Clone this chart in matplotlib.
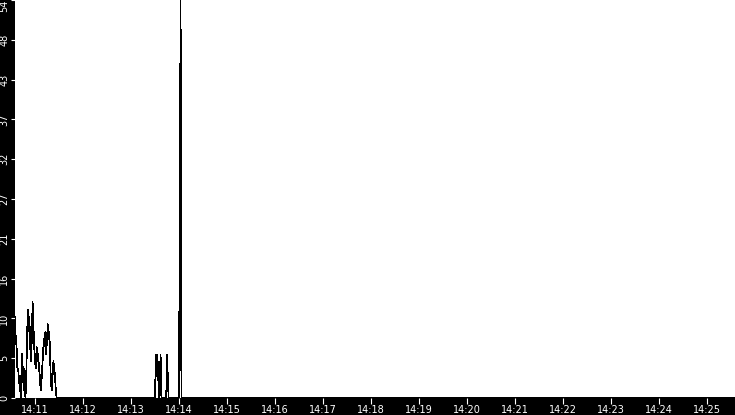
import datetime as dt
import numpy as np
import pandas as pd
import matplotlib
matplotlib.use('Agg')
import matplotlib.pyplot as plt
import matplotlib.dates as mdates

day = '2021-01-01 '

# first burst, one sample per second from 14:10:35
burst1_start = day + '14:10:35'
burst1_vals = [11, 8, 7, 4, 4, 2, 3, 0, 1, 6, 3, 1, 4, 0, 2, 8, 12, 9, 11, 7,
               5, 8, 13, 10, 7, 5, 4, 7, 5, 6, 4, 3, 1, 2, 4, 6, 8, 7, 9, 6,
               8, 10, 8, 9, 5, 2, 1, 3, 5, 4, 3, 1, 0]

# second burst
burst2_times = ['14:13:30', '14:13:31', '14:13:32', '14:13:33', '14:13:34',
                '14:13:35', '14:13:36', '14:13:37', '14:13:38', '14:13:44',
                '14:13:45', '14:13:46', '14:13:47']
burst2_vals = [0, 5.9, 2.9, 5.9, 2.9, 0, 2.9, 5.9, 0, 0, 5.9, 2.9, 0]

# spike
spike_times = ['14:14:00', '14:14:01', '14:14:02', '14:14:03']
spike_vals = [0, 27, 54, 0]

end_time = '14:25:35'

t1 = pd.date_range(burst1_start, periods=len(burst1_vals), freq='s')
t2 = pd.to_datetime([day + s for s in burst2_times])
t3 = pd.to_datetime([day + s for s in spike_times])
t4 = pd.to_datetime([day + end_time])

times = t1.append(t2).append(t3).append(t4)
vals = burst1_vals + burst2_vals + spike_vals + [0]

fig = plt.figure(figsize=(7.35, 4.15), dpi=100, facecolor='black')
ax = fig.add_axes([15 / 735, 17 / 415, 720 / 735, 398 / 415])
ax.set_facecolor('white')
ax.plot(times, vals, color='black', lw=0.5, antialiased=False)

ax.set_xlim(pd.Timestamp(burst1_start), pd.Timestamp(day + end_time))
ax.set_ylim(0, 54)

yt = np.linspace(0, 54, 11)
ax.set_yticks(yt)
ax.set_yticklabels([str(int(v)) for v in yt])
ax.xaxis.set_major_locator(mdates.MinuteLocator())
ax.xaxis.set_major_formatter(mdates.DateFormatter('%H:%M'))

for s in ax.spines.values():
    s.set_visible(False)

ax.tick_params(axis='x', colors='white', length=4, width=0.8, pad=1, labelsize=7)
ax.tick_params(axis='y', colors='white', length=3, width=0.8, pad=1, labelsize=7,
               labelrotation=90)
lbls = ax.get_yticklabels()
for l in lbls:
    l.set_va('center')
lbls[-1].set_va('top')

fig.savefig('out.png', dpi=100, facecolor='black')
